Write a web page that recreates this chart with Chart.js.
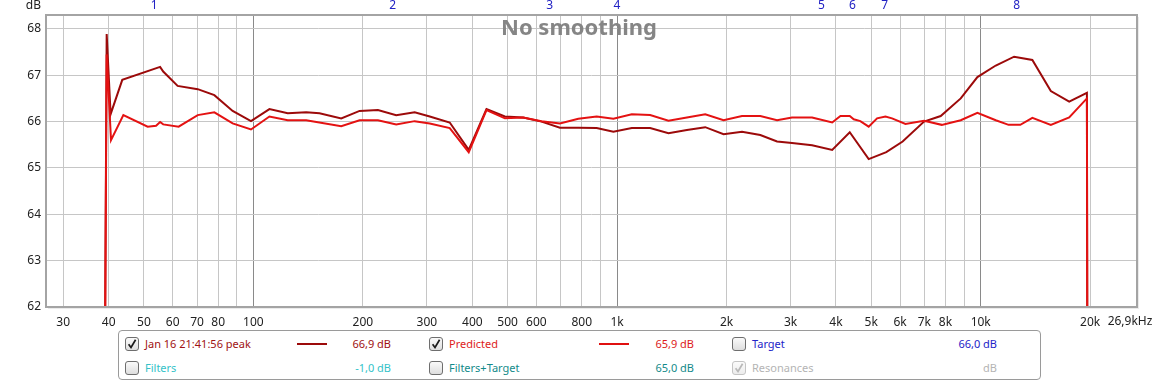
<!DOCTYPE html>
<html>
<head>
<meta charset="utf-8">
<script src="https://cdn.jsdelivr.net/npm/chart.js@4/dist/chart.umd.min.js"></script>
<style>
  html, body { margin: 0; padding: 0; background: #fff; }
  #wrap { position: relative; width: 1159px; height: 382px; overflow: hidden; font-family: "Noto Sans", sans-serif; }
  #chart { position: absolute; left: 0; top: 0; }
  #legend { position: absolute; left: 118px; top: 330px; width: 921px; height: 48px; border: 1px solid #9a9a9a; border-radius: 4px; background: #fff; }
  .item { position: absolute; font-size: 11px; line-height: 14px; white-space: nowrap; }
  .val { position: absolute; font-size: 11px; line-height: 14px; white-space: nowrap; text-align: right; }
  .box { position: absolute; width: 12px; height: 12px; border: 1px solid #6e6e6e; border-radius: 3px; background: linear-gradient(#fafafa, #dedede); }
  .box.off { border-color: #c4c4c4; background: linear-gradient(#fbfbfb, #ececec); }
  .sample { position: absolute; height: 2px; width: 30px; }
</style>
</head>
<body>
<div id="wrap">
  <canvas id="chart" width="1159" height="382"></canvas>
  <div id="legend"></div>
</div>
<script>
// measured response (dark red)
const measFreq = [38.7, 39.5, 40.5, 43.6, 55.4, 56.5, 61.9, 70.3, 78.1, 87.7, 98.5, 110.7, 124.3, 139.7, 152, 174.4, 195.9, 220, 247, 277.6, 305.5, 346.7, 391, 437.5, 491.5, 552, 620, 696.6, 782.5, 879, 977, 1098, 1233, 1385, 1556, 1748, 1963, 2206, 2477, 2754, 3028, 3438, 3905, 4364, 4920, 5500, 6100, 6985, 7762, 8812, 9792, 11000, 12355, 13869, 15588, 17511, 19588, 19700];
const measDb = [55, 67.89, 66.16, 66.90, 67.18, 67.08, 66.77, 66.70, 66.57, 66.23, 66.01, 66.27, 66.18, 66.20, 66.18, 66.07, 66.23, 66.25, 66.14, 66.20, 66.11, 65.98, 65.39, 66.27, 66.11, 66.09, 66.00, 65.87, 65.87, 65.86, 65.78, 65.86, 65.86, 65.75, 65.82, 65.88, 65.73, 65.78, 65.71, 65.57, 65.54, 65.49, 65.39, 65.77, 65.19, 65.34, 65.57, 66.00, 66.12, 66.50, 66.96, 67.21, 67.40, 67.33, 66.66, 66.43, 66.62, 55];

// predicted response (bright red)
const predFreq = [38.7, 39.5, 40.6, 43.9, 51.2, 54.0, 55.4, 56.5, 62.3, 70.3, 78.1, 87.7, 98.5, 110.7, 124.3, 139.7, 174.4, 195.9, 220, 247, 277.6, 305.5, 346.7, 391, 437.5, 491.5, 552, 620, 696.6, 782.5, 879, 977, 1098, 1233, 1385, 1556, 1748, 1963, 2206, 2477, 2754, 3028, 3438, 3905, 4114, 4364, 4475, 4666, 4920, 5188, 5470, 5704, 6209, 6985, 7814, 8812, 9792, 11000, 11930, 12850, 13869, 15588, 17511, 19588, 19700];
const predDb = [55, 67.45, 65.60, 66.14, 65.89, 65.91, 65.99, 65.94, 65.89, 66.14, 66.20, 65.96, 65.83, 66.11, 66.03, 66.03, 65.90, 66.03, 66.03, 65.94, 66.01, 65.96, 65.86, 65.34, 66.25, 66.07, 66.09, 66.01, 65.96, 66.06, 66.11, 66.06, 66.16, 66.14, 66.02, 66.09, 66.16, 66.03, 66.12, 66.12, 66.03, 66.09, 66.09, 65.98, 66.12, 66.12, 66.05, 66.01, 65.89, 66.07, 66.11, 66.07, 65.95, 66.02, 65.93, 66.03, 66.19, 66.03, 65.93, 65.93, 66.08, 65.93, 66.09, 66.50, 55];

// filter markers along the top
const filterLabels = ['1', '2', '3', '4', '5', '6', '7', '8'];
const filterFreqs = [53.4, 241.6, 653, 1000, 3648, 4440, 5440, 12565];

const xTickValues = [30, 40, 50, 60, 70, 80, 90, 100, 200, 300, 400, 500, 600, 700, 800, 900, 1000, 2000, 3000, 4000, 5000, 6000, 7000, 8000, 9000, 10000, 20000];
const xTickLabels = ['30', '40', '50', '60', '70', '80', '', '100', '200', '300', '400', '500', '600', '', '800', '', '1k', '2k', '3k', '4k', '5k', '6k', '7k', '8k', '', '10k', '20k'];
const xEndLabel = '26,9kHz';
const yTickValues = [62, 63, 64, 65, 66, 67, 68];

const legendRows = [
  [
    { label: 'Jan 16 21:41:56 peak', color: '#a01212', checked: true, line: '#9c0a0a', value: '66,9 dB' },
    { label: 'Predicted', color: '#dd1c1c', checked: true, line: '#e01010', value: '65,9 dB' },
    { label: 'Target', color: '#2323c8', checked: false, value: '66,0 dB' },
  ],
  [
    { label: 'Filters', color: '#33c2c8', checked: false, value: '-1,0 dB' },
    { label: 'Filters+Target', color: '#138a8a', checked: false, value: '65,0 dB' },
    { label: 'Resonances', color: '#b4b4b4', checked: true, disabled: true, value: 'dB' },
  ],
];

const toPoints = (xs, ys) => xs.map((x, i) => ({ x, y: ys[i] }));
const FONT = '"Noto Sans", sans-serif';

const overlay = {
  id: 'overlay',
  afterDraw(chart) {
    const { ctx, chartArea: a, scales: { x } } = chart;
    ctx.save();
    // frame
    ctx.strokeStyle = '#a4a4a4';
    ctx.lineWidth = 2;
    ctx.strokeRect(a.left, a.top, a.right - a.left, a.bottom - a.top);
    ctx.strokeStyle = 'rgba(0,0,0,0.08)';
    ctx.lineWidth = 1;
    ctx.beginPath();
    ctx.moveTo(a.right + 1.5, a.top + 2);
    ctx.lineTo(a.right + 1.5, a.bottom + 1.5);
    ctx.lineTo(a.left + 2, a.bottom + 1.5);
    ctx.stroke();

    ctx.font = '12px ' + FONT;
    ctx.textBaseline = 'middle';
    ctx.fillStyle = '#222';
    ctx.textAlign = 'right';
    ctx.fillText('dB', 41, 6);

    // end-of-range label under the right edge
    ctx.textAlign = 'center';
    ctx.fillText(xEndLabel, a.right - 7, a.bottom + 15);

    ctx.fillStyle = '#2222c4';
    filterFreqs.forEach((f, i) => ctx.fillText(filterLabels[i], x.getPixelForValue(f), 6));

    ctx.font = 'bold 22px ' + FONT;
    ctx.fillStyle = '#858585';
    ctx.fillText('No smoothing', 579, 29);
    ctx.restore();
  },
};

new Chart(document.getElementById('chart'), {
  type: 'line',
  data: {
    datasets: [
      { label: 'Predicted', data: toPoints(predFreq, predDb), borderColor: '#e41212', borderWidth: 2, pointRadius: 0, tension: 0, order: 0 },
      { label: 'Jan 16 21:41:56 peak', data: toPoints(measFreq, measDb), borderColor: '#9c0a0a', borderWidth: 2, pointRadius: 0, tension: 0, order: 1 },
    ],
  },
  options: {
    responsive: false,
    animation: false,
    devicePixelRatio: 1,
    layout: { padding: { left: 0, right: 22, top: 15, bottom: 55 } },
    plugins: { legend: { display: false }, tooltip: { enabled: false } },
    scales: {
      x: {
        type: 'logarithmic',
        min: 26.9,
        max: 26900,
        bounds: 'data',
        afterBuildTicks: (s) => { s.ticks = xTickValues.map((v) => ({ value: v })); },
        afterFit: (s) => { s.height = 20; },
        border: { display: false },
        grid: {
          drawTicks: false,
          lineWidth: 1,
          color: (c) => {
            const v = c.tick && c.tick.value;
            if (v === 100 || v === 1000 || v === 10000) return '#8a8a8a';
            return '#c6c6c6';
          },
        },
        ticks: {
          autoSkip: false,
          maxRotation: 0,
          padding: 8,
          color: '#222',
          font: { family: FONT, size: 12 },
          callback: (v, i) => xTickLabels[i],
        },
      },
      y: {
        min: 62,
        max: 68.3,
        afterBuildTicks: (s) => { s.ticks = yTickValues.map((v) => ({ value: v })); },
        afterFit: (s) => { s.width = 46; },
        border: { display: false },
        grid: { drawTicks: false, color: '#c6c6c6', lineWidth: 1 },
        ticks: {
          padding: 5,
          color: '#222',
          font: { family: FONT, size: 12 },
          callback: (v) => String(v),
        },
      },
    },
  },
  plugins: [overlay],
});

// legend below the plot
const legend = document.getElementById('legend');
const colLeft = [6, 310, 613];      // checkbox x relative to legend box
const valRight = [272, 575, 878];   // right edge of value text
const sampleLeft = [178, 480];
const rowTop = [6, 30];
legendRows.forEach((row, r) => {
  row.forEach((it, c) => {
    const box = document.createElement('div');
    box.className = 'box' + (it.disabled ? ' off' : '');
    box.style.left = colLeft[c] + 'px';
    box.style.top = rowTop[r] + 'px';
    if (it.checked) {
      const stroke = it.disabled ? '#b8b8b8' : '#1a1a1a';
      box.innerHTML = '<svg width="12" height="12" viewBox="0 0 12 12" style="position:absolute;left:0;top:0"><path d="M2.6 6.2 L5 9.4 L9.6 1.8" fill="none" stroke="' + stroke + '" stroke-width="1.7"/></svg>';
    }
    legend.appendChild(box);

    const lab = document.createElement('div');
    lab.className = 'item';
    lab.textContent = it.label;
    lab.style.color = it.color;
    lab.style.left = (colLeft[c] + 20) + 'px';
    lab.style.top = rowTop[r] + 'px';
    legend.appendChild(lab);

    if (it.line) {
      const s = document.createElement('div');
      s.className = 'sample';
      s.style.background = it.line;
      s.style.left = sampleLeft[c] + 'px';
      s.style.top = (rowTop[r] + 6) + 'px';
      legend.appendChild(s);
    }

    const val = document.createElement('div');
    val.className = 'val';
    val.textContent = it.value;
    val.style.color = it.color;
    val.style.right = (921 - valRight[c]) + 'px';
    val.style.top = rowTop[r] + 'px';
    legend.appendChild(val);
  });
});
</script>
</body>
</html>
